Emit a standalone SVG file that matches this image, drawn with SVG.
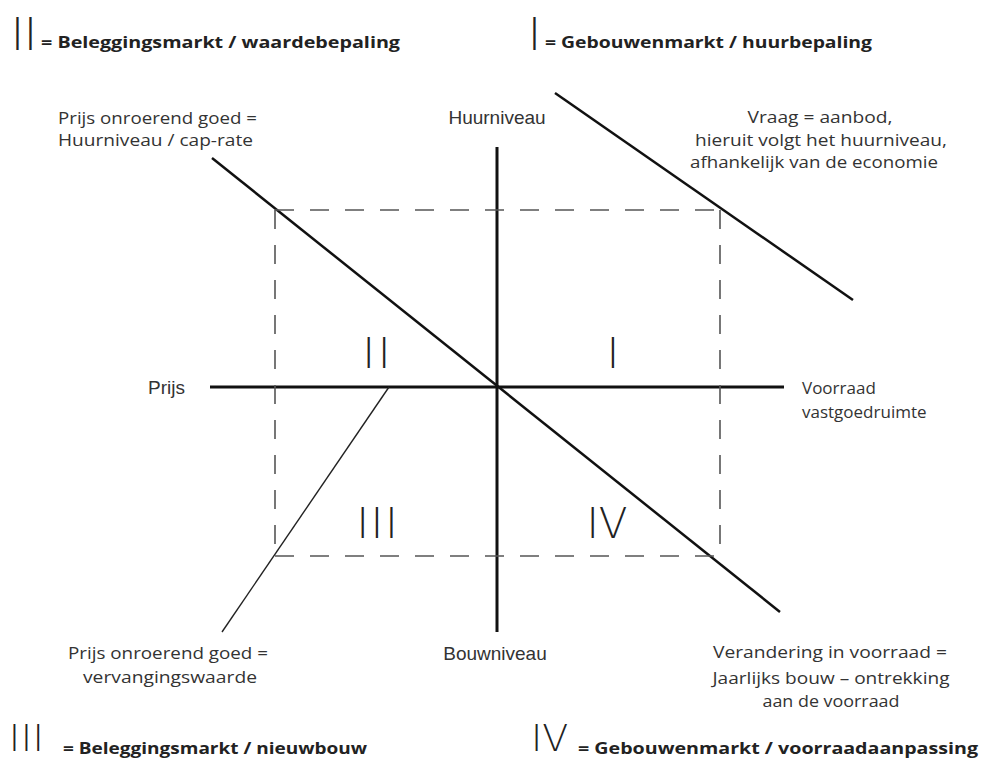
<svg xmlns="http://www.w3.org/2000/svg" width="981" height="761" viewBox="0 0 981 761">
<style>
.lbl{font-family:"Open Sans","Liberation Sans",sans-serif;font-size:17px;fill:#333}
.ax{font-family:"Liberation Sans",Arial,sans-serif;font-size:19px;fill:#333}
.hd{font-family:"Open Sans","Liberation Sans",sans-serif;font-size:16px;font-weight:bold;fill:#222}
.rn{font-family:"DejaVu Sans","Liberation Sans",sans-serif;font-weight:200;fill:#222}
.axis{stroke:#111;stroke-width:3;fill:none}
.curve{stroke:#111;stroke-width:2.5;fill:none}
.thin{stroke:#222;stroke-width:1.4;fill:none}
.dash{stroke:#555;stroke-width:1.6;fill:none;stroke-dasharray:19 16}
</style>
<rect width="981" height="761" fill="#fff"/>
<g id="connectors">
<line class="axis" x1="497" y1="147" x2="497" y2="632"/>
<line class="axis" x1="210" y1="387" x2="784" y2="387"/>
<line class="curve" x1="212" y1="158" x2="780" y2="612"/>
<line class="curve" x1="555" y1="93" x2="853" y2="300"/>
<line class="thin" x1="389" y1="387" x2="222" y2="632"/>
<line class="dash" x1="275" y1="210" x2="720" y2="210"/>
<line class="dash" x1="275" y1="556" x2="720" y2="556"/>
<line class="dash" x1="275" y1="210" x2="275" y2="556"/>
<line class="dash" x1="720" y1="210" x2="720" y2="556"/>
</g>
<g id="header-II">
<text class="rn" x="11" y="50" font-size="44">II</text>
<text class="hd" x="41" y="48" textLength="359" lengthAdjust="spacingAndGlyphs">= Beleggingsmarkt / waardebepaling</text>
</g>
<g id="header-I">
<text class="rn" x="528" y="50" font-size="44">I</text>
<text class="hd" x="545" y="48" textLength="327" lengthAdjust="spacingAndGlyphs">= Gebouwenmarkt / huurbepaling</text>
</g>
<g id="header-III">
<text class="rn" x="9" y="751" font-size="37" letter-spacing="1">III</text>
<text class="hd" x="63" y="754" textLength="304" lengthAdjust="spacingAndGlyphs">= Beleggingsmarkt / nieuwbouw</text>
</g>
<g id="header-IV">
<text class="rn" x="531" y="751" font-size="38">IV</text>
<text class="hd" x="578" y="754" textLength="400" lengthAdjust="spacingAndGlyphs">= Gebouwenmarkt / voorraadaanpassing</text>
</g>
<g id="quadrant-labels">
<text class="rn" x="378" y="368" font-size="42" text-anchor="middle" letter-spacing="3">II</text>
<text class="rn" x="613" y="368" font-size="42" text-anchor="middle">I</text>
<text class="rn" x="378" y="538" font-size="42" text-anchor="middle" letter-spacing="2">III</text>
<text class="rn" x="607" y="538" font-size="42" text-anchor="middle">IV</text>
</g>
<g id="axis-labels">
<text class="ax" x="497" y="124" text-anchor="middle">Huurniveau</text>
<text class="ax" x="148" y="394">Prijs</text>
<text class="ax" x="495" y="660" text-anchor="middle">Bouwniveau</text>
<text class="lbl" x="802" y="394">Voorraad</text>
<text class="lbl" x="802" y="418">vastgoedruimte</text>
</g>
<g id="label-tl">
<text class="lbl" x="58" y="124" textLength="199" lengthAdjust="spacingAndGlyphs">Prijs onroerend goed =</text>
<text class="lbl" x="58" y="146" textLength="195" lengthAdjust="spacingAndGlyphs">Huurniveau / cap-rate</text>
</g>
<g id="label-tr">
<text class="lbl" x="820" y="123" text-anchor="middle" textLength="145" lengthAdjust="spacingAndGlyphs">Vraag = aanbod,</text>
<text class="lbl" x="821" y="146" text-anchor="middle" textLength="252" lengthAdjust="spacingAndGlyphs">hieruit volgt het huurniveau,</text>
<text class="lbl" x="814" y="168" text-anchor="middle" textLength="248" lengthAdjust="spacingAndGlyphs">afhankelijk van de economie</text>
</g>
<g id="label-bl">
<text class="lbl" x="168" y="659" text-anchor="middle" textLength="200" lengthAdjust="spacingAndGlyphs">Prijs onroerend goed =</text>
<text class="lbl" x="170" y="683" text-anchor="middle" textLength="174" lengthAdjust="spacingAndGlyphs">vervangingswaarde</text>
</g>
<g id="label-br">
<text class="lbl" x="830" y="658" text-anchor="middle" textLength="234" lengthAdjust="spacingAndGlyphs">Verandering in voorraad =</text>
<text class="lbl" x="831" y="684" text-anchor="middle" textLength="237" lengthAdjust="spacingAndGlyphs">Jaarlijks bouw – ontrekking</text>
<text class="lbl" x="831" y="707" text-anchor="middle" textLength="137" lengthAdjust="spacingAndGlyphs">aan de voorraad</text>
</g>
</svg>
